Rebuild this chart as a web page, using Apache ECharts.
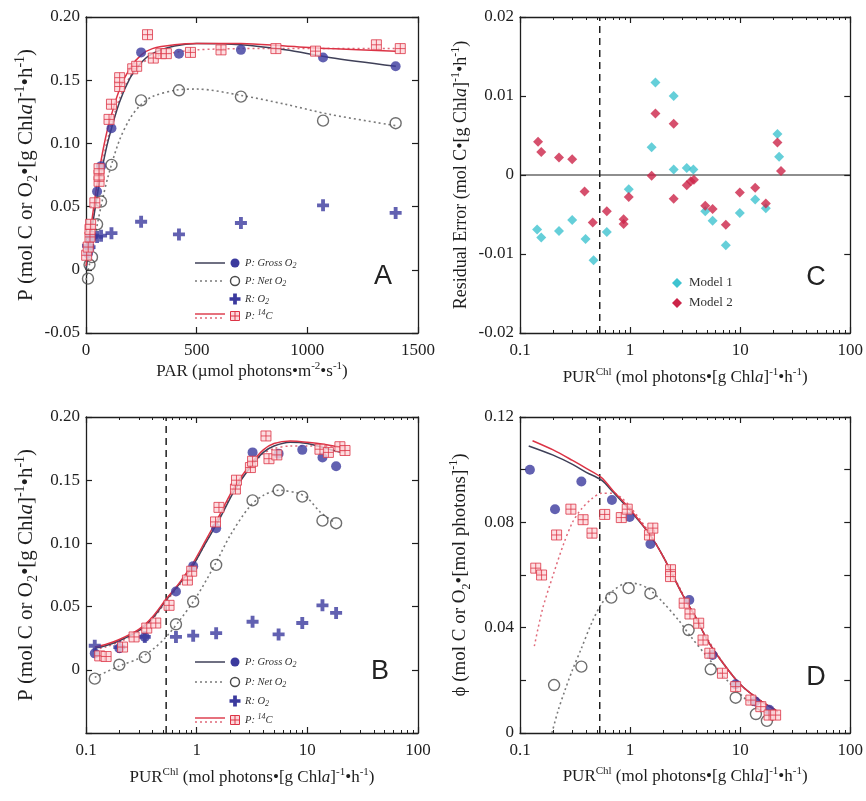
<!DOCTYPE html>
<html><head><meta charset="utf-8">
<script src="https://cdn.jsdelivr.net/npm/echarts@6/dist/echarts.min.js"></script>
<style>html,body{margin:0;padding:0;background:#fff}#c{width:866px;height:801px}</style>
</head><body><div id="c"></div>
<script>
// ---------------- DATA ----------------
// Panels A/B: O2 incubations (same samples; x = PAR in A, PUR in B)
const parObs   = [9, 16, 27, 50, 68, 115, 249, 420, 700, 1071, 1399];
const purObs   = [0.12, 0.2, 0.34, 0.65, 0.93, 1.5, 3.2, 5.5, 9.0, 13.7, 18.2];
const grossP   = [0.013, 0.017, 0.026, 0.062, 0.082, 0.112, 0.172, 0.171, 0.174, 0.168, 0.161];
const netP     = [-0.007, 0.004, 0.010, 0.036, 0.054, 0.083, 0.134, 0.142, 0.137, 0.118, 0.116];
const respR    = [0.019, 0.018, 0.026, 0.026, 0.027, 0.029, 0.038, 0.028, 0.037, 0.051, 0.045];
// Panel A: 14C incubations
const parC14   = [3, 10, 18, 18, 21, 40, 59, 59, 59, 104, 115, 152, 152, 211, 229, 278, 304, 338, 363, 472, 610, 858, 1037, 1312, 1420];
const pC14A    = [0.0115, 0.018, 0.026, 0.032, 0.036, 0.053, 0.070, 0.075, 0.080, 0.119, 0.131, 0.145, 0.152, 0.159, 0.161, 0.186, 0.1675, 0.171, 0.171, 0.172, 0.174, 0.175, 0.173, 0.178, 0.175];
// Panel B: 14C incubations
const purC14B  = [0.133, 0.152, 0.214, 0.272, 0.354, 0.427, 0.563, 0.825, 0.902, 1.48, 1.59, 2.24, 2.29, 3.06, 3.2, 4.23, 4.5, 5.3, 13, 15.5, 19.7, 21.9];
const pC14B    = [0.011, 0.0105, 0.018, 0.026, 0.033, 0.037, 0.051, 0.071, 0.078, 0.117, 0.1285, 0.143, 0.150, 0.160, 0.165, 0.185, 0.167, 0.170, 0.1745, 0.172, 0.1765, 0.1735];
// Panel A fitted curves
const aFitPAR    = [0, 25, 50, 75, 100, 150, 200, 250, 300, 400, 500, 700, 900, 1100, 1400];
const aGrossFit  = [0.000, 0.030, 0.058, 0.082, 0.102, 0.132, 0.152, 0.164, 0.171, 0.177, 0.179, 0.178, 0.174, 0.168, 0.161];
const aC14Fit    = [0.003, 0.037, 0.068, 0.093, 0.113, 0.142, 0.160, 0.170, 0.175, 0.178, 0.179, 0.179, 0.177, 0.175, 0.173];
const aC14Dot    = [0.000, 0.031, 0.060, 0.085, 0.105, 0.135, 0.153, 0.163, 0.168, 0.172, 0.174, 0.175, 0.175, 0.175, 0.175];
const aNetFit    = [-0.008, 0.012, 0.035, 0.056, 0.074, 0.102, 0.120, 0.131, 0.137, 0.142, 0.143, 0.138, 0.131, 0.123, 0.114];
// Panel B fitted curves
const bFitPUR    = [0.12, 0.15, 0.2, 0.3, 0.4, 0.53, 0.7, 0.92, 1.2, 1.6, 2.2, 3.1, 4, 5, 7, 10, 15, 20];
const bGrossFit  = [0.017, 0.019, 0.023, 0.031, 0.041, 0.055, 0.068, 0.082, 0.100, 0.119, 0.142, 0.161, 0.172, 0.177, 0.180, 0.179, 0.175, 0.172];
const bC14Fit    = [0.018, 0.020, 0.024, 0.032, 0.042, 0.056, 0.069, 0.084, 0.102, 0.122, 0.145, 0.163, 0.174, 0.179, 0.181, 0.180, 0.178, 0.176];
const bC14Dot    = [0.016, 0.018, 0.022, 0.030, 0.040, 0.054, 0.067, 0.082, 0.100, 0.120, 0.143, 0.161, 0.171, 0.175, 0.177, 0.177, 0.177, 0.177];
const bNetPUR    = [0.12, 0.2, 0.3, 0.4, 0.53, 0.7, 1, 1.5, 2, 3, 4, 5.5, 8, 10, 13, 18];
const bNetFit    = [-0.006, 0.003, 0.009, 0.016, 0.026, 0.039, 0.058, 0.085, 0.106, 0.129, 0.138, 0.142, 0.140, 0.136, 0.125, 0.116];
// Panel C: residuals
const m1PUR = [0.143, 0.156, 0.226, 0.298, 0.394, 0.466, 0.615, 0.973, 1.57, 1.70, 2.49, 2.49, 3.27, 3.76, 4.82, 5.62, 7.41, 9.93, 13.7, 17.1, 21.8, 22.6];
const m1Res = [-0.0069, -0.0079, -0.0071, -0.0057, -0.0081, -0.0108, -0.0072, -0.0018, 0.0035, 0.0117, 0.0100, 0.0007, 0.0009, 0.0007, -0.0046, -0.0058, -0.0089, -0.0048, -0.0031, -0.0042, 0.0052, 0.0023];
const m2PUR = [0.146, 0.156, 0.226, 0.298, 0.386, 0.458, 0.615, 0.874, 0.874, 0.973, 1.57, 1.70, 2.49, 2.49, 3.27, 3.56, 3.8, 4.82, 5.62, 7.41, 9.93, 13.7, 17.1, 21.8, 23.5];
const m2Res = [0.0042, 0.0029, 0.0022, 0.0020, -0.0021, -0.0060, -0.0046, -0.0056, -0.0062, -0.0028, -0.0001, 0.0078, 0.0065, -0.0030, -0.0013, -0.0008, -0.0006, -0.0039, -0.0043, -0.0063, -0.0022, -0.0016, -0.0036, 0.0041, 0.0005];
// Panel D: quantum yield
const purGrossD = [0.123, 0.208, 0.361, 0.684, 0.99, 1.53, 3.45, 5.6, 9.1, 13.7, 18.4];
const phiGross  = [0.100, 0.085, 0.0955, 0.0885, 0.082, 0.0718, 0.0505, 0.0296, 0.0185, 0.012, 0.0088];
const purNetD   = [0.204, 0.361, 0.675, 0.97, 1.53, 3.4, 5.4, 9.1, 13.9, 17.5];
const phiNet    = [0.0182, 0.0252, 0.0514, 0.055, 0.053, 0.0391, 0.0242, 0.0134, 0.0072, 0.0046];
const purC14D   = [0.139, 0.157, 0.215, 0.29, 0.374, 0.451, 0.588, 0.832, 0.942, 1.5, 1.61, 2.33, 2.33, 3.1, 3.5, 4.2, 4.6, 5.3, 6.9, 9.1, 12.5, 15.4, 18.3, 21];
const phiC14D   = [0.0626, 0.060, 0.0752, 0.085, 0.081, 0.0759, 0.083, 0.0818, 0.085, 0.0752, 0.0778, 0.062, 0.0594, 0.0493, 0.0452, 0.0417, 0.0353, 0.0303, 0.0227, 0.0176, 0.0125, 0.010, 0.0068, 0.0068];
const dGrossPUR = [0.12, 0.2, 0.3, 0.4, 0.55, 0.7, 1, 1.5, 2, 3, 4, 5, 7, 10, 15, 21];
const dGrossFit = [0.109, 0.1055, 0.102, 0.099, 0.096, 0.0915, 0.0845, 0.0755, 0.067, 0.0525, 0.0435, 0.0355, 0.0265, 0.0185, 0.0125, 0.0088];
const dC14PUR   = [0.13, 0.2, 0.3, 0.4, 0.55, 0.7, 1, 1.5, 2, 3, 4, 5, 7, 10, 15, 22];
const dC14Fit   = [0.111, 0.1075, 0.1035, 0.1005, 0.097, 0.092, 0.085, 0.0755, 0.067, 0.0525, 0.0435, 0.0355, 0.0265, 0.0185, 0.0125, 0.0082];
const dC14DotPUR = [0.135, 0.16, 0.2, 0.25, 0.3, 0.36, 0.45, 0.55, 0.7, 0.85, 1, 1.5, 2, 3, 5, 10, 22];
const dC14Dot    = [0.033, 0.047, 0.060, 0.072, 0.080, 0.085, 0.089, 0.091, 0.091, 0.089, 0.086, 0.076, 0.067, 0.053, 0.036, 0.0185, 0.008];
const dNetPUR   = [0.195, 0.22, 0.255, 0.3, 0.36, 0.45, 0.55, 0.7, 0.95, 1.2, 1.5, 2, 2.8, 3.5, 5, 8, 13, 18];
const dNetFit   = [0, 0.008, 0.016, 0.024, 0.032, 0.042, 0.049, 0.054, 0.057, 0.0565, 0.0545, 0.0495, 0.0425, 0.037, 0.029, 0.019, 0.0105, 0.0072];
// Ek threshold (dashed line)
const purThreshold = 0.53;
// Tick/axis ranges
const parRange = [0, 1500, 500];
const pRange   = [-0.05, 0.20, 0.05];
const resRange = [-0.02, 0.02, 0.01];
const phiRange = [0, 0.12, 0.04];
const purRange = [0.1, 100];

// ---------------- STYLE ----------------
const SERIF = '"Liberation Serif","Times New Roman",serif';
const SANS = '"Liberation Sans",Arial,sans-serif';
const INK = '#1e1e1e';
const BLUE = '#3b3a9e';
const GROSS_LINE = '#3f4058';
const NET_LINE = '#7a7a7a';
const RED = '#dc3446';
const RED_DOT = '#e06a7a';
const CYAN = '#3ec3d0';
const CRIMSON = '#cc2448';
const SQUARE = 'path://M0,0H100V100H0Z M50,0V100 M0,50H100';
const PLUS = 'path://M34,0H66V34H100V66H66V100H34V66H0V34H34Z';

function nameStyle(fs) {
  const sfs = Math.round(fs * 0.65);
  return {
    fontFamily: SERIF, fontSize: fs, color: INK, lineHeight: Math.round(fs * 1.3),
    rich: {
      sup: {fontFamily: SERIF, fontSize: sfs, lineHeight: sfs, verticalAlign: 'top', color: INK},
      sub: {fontFamily: SERIF, fontSize: sfs, lineHeight: sfs, verticalAlign: 'bottom', color: INK},
      it:  {fontFamily: SERIF, fontSize: fs, fontStyle: 'italic', color: INK}
    }
  };
}
const LABEL = {fontFamily: SERIF, fontSize: 17, color: INK};

function base(g) {
  return {
    gridIndex: g,
    axisLine: {show: true, onZero: false, lineStyle: {color: INK, width: 1.3}},
    axisTick: {show: true, inside: true, length: 6, lineStyle: {color: INK, width: 1.2}},
    splitLine: {show: false}
  };
}
function fmtLog(v) { return String(+Number(v).toPrecision(3)); }
function fmtY(hideBelow) {
  return function (v) {
    if (hideBelow !== undefined && v < hideBelow) return '';
    if (Math.abs(v) < 1e-9) return '0';
    return v.toFixed(2);
  };
}
function xPair(g, kind, name, gap) {
  const spec = kind === 'log'
    ? {type: 'log', logBase: 10, min: purRange[0], max: purRange[1],
       minorTick: {show: true, splitNumber: 9, length: 3, lineStyle: {color: INK, width: 1}}}
    : {type: 'value', min: parRange[0], max: parRange[1], interval: parRange[2]};
  const bottom = Object.assign(base(g), spec, {
    position: 'bottom', name: name, nameLocation: 'middle', nameGap: gap, nameTextStyle: nameStyle(17),
    axisLabel: Object.assign({margin: 9, formatter: kind === 'log' ? fmtLog : (v => String(v))}, LABEL)
  });
  const top = Object.assign(base(g), spec, {position: 'top', axisLabel: {show: false}});
  return [bottom, top];
}
function yPair(g, range, name, gap, fs, hideBelow) {
  const spec = {type: 'value', min: range[0], max: range[1], interval: range[2]};
  const left = Object.assign(base(g), spec, {
    position: 'left', name: name, nameLocation: 'middle', nameGap: gap, nameTextStyle: nameStyle(fs),
    axisLabel: Object.assign({margin: 6, formatter: fmtY(hideBelow)}, LABEL)
  });
  const right = Object.assign(base(g), spec, {position: 'right', axisLabel: {show: false}});
  return [left, right];
}

function zip(xs, ys) { return xs.map((x, i) => [x, ys[i]]); }
function sc(g, xs, ys, symbol, size, itemStyle, z) {
  return {type: 'scatter', xAxisIndex: 2 * g, yAxisIndex: 2 * g, data: zip(xs, ys),
    symbol, symbolSize: size, itemStyle, z: z || 3, silent: true};
}
function ln(g, xs, ys, color, width, type, z, smooth) {
  return {type: 'line', xAxisIndex: 2 * g, yAxisIndex: 2 * g, data: zip(xs, ys),
    showSymbol: false, symbol: 'none', smooth: smooth === undefined ? 0.3 : smooth,
    lineStyle: {color, width, type}, z: z || 2, silent: true};
}
const grossStyle = {color: BLUE};
const netStyle = {color: 'rgba(255,255,255,0)', borderColor: '#4a4a4a', borderWidth: 1.4};
const c14Style = {color: '#fcd6da', borderColor: RED, borderWidth: 1};

// grid order: 0=A, 1=C, 2=B, 3=D
const PUR_NAME = 'PUR{sup|Chl} (mol photons•[g Chl{it|a}]{sup|-1}•h{sup|-1})';
const xAxes = [].concat(
  xPair(0, 'lin', 'PAR (µmol photons•m{sup|-2}•s{sup|-1})', 28),
  xPair(1, 'log', PUR_NAME, 34),
  xPair(2, 'log', PUR_NAME, 34),
  xPair(3, 'log', PUR_NAME, 33)
);
const P_NAME = 'P (mol C or O{sub|2}•[g Chl{it|a}]{sup|-1}•h{sup|-1})';
const yAxes = [].concat(
  yPair(0, pRange, P_NAME, 46, 21),
  yPair(1, resRange, 'Residual Error (mol C•[g Chl{it|a}]{sup|-1}•h{sup|-1})', 47, 18),
  yPair(2, pRange, P_NAME, 46, 21, -0.04),
  yPair(3, phiRange, 'ϕ (mol C or O{sub|2}•[mol photons]{sup|-1})', 47, 19)
);
// D: minor ticks at 0.02
yAxes[6].minorTick = {show: true, splitNumber: 2, length: 6, lineStyle: {color: INK, width: 1.2}};
yAxes[7].minorTick = {show: true, splitNumber: 2, length: 6, lineStyle: {color: INK, width: 1.2}};

const series = [
  // ---- A ----
  ln(0, aFitPAR, aNetFit, NET_LINE, 1.6, [2, 3]),
  ln(0, aFitPAR, aC14Dot, RED_DOT, 1.5, [2, 3]),
  ln(0, aFitPAR, aGrossFit, GROSS_LINE, 1.5, 'solid'),
  ln(0, aFitPAR, aC14Fit, RED, 1.5, 'solid'),
  sc(0, parObs, respR, PLUS, 12, grossStyle),
  sc(0, parObs, netP, 'circle', 11, netStyle),
  sc(0, parObs, grossP, 'circle', 10, grossStyle),
  sc(0, parC14, pC14A, SQUARE, 10, c14Style, 4),
  // ---- C ----
  ln(1, [purRange[0], purRange[1]], [0, 0], INK, 1.2, 'solid', 2, false),
  ln(1, [purThreshold, purThreshold], [resRange[0], resRange[1]], INK, 1.5, [7, 5], 2, false),
  sc(1, m1PUR, m1Res, 'diamond', 10, {color: CYAN}),
  sc(1, m2PUR, m2Res, 'diamond', 10, {color: CRIMSON}, 4),
  // ---- B ----
  ln(2, [purThreshold, purThreshold], [pRange[0], pRange[1]], INK, 1.5, [7, 5], 2, false),
  ln(2, bNetPUR, bNetFit, NET_LINE, 1.6, [2, 3]),
  ln(2, bFitPUR, bC14Dot, RED_DOT, 1.5, [2, 3]),
  ln(2, bFitPUR, bGrossFit, GROSS_LINE, 1.5, 'solid'),
  ln(2, bFitPUR, bC14Fit, RED, 1.5, 'solid'),
  sc(2, purObs, respR, PLUS, 12, grossStyle),
  sc(2, purObs, netP, 'circle', 11, netStyle),
  sc(2, purObs, grossP, 'circle', 10, grossStyle),
  sc(2, purC14B, pC14B, SQUARE, 10, c14Style, 4),
  // ---- D ----
  ln(3, [purThreshold, purThreshold], [phiRange[0], phiRange[1]], INK, 1.5, [7, 5], 2, false),
  ln(3, dNetPUR, dNetFit, NET_LINE, 1.6, [2, 3]),
  ln(3, dC14DotPUR, dC14Dot, RED_DOT, 1.5, [2, 3]),
  ln(3, dGrossPUR, dGrossFit, GROSS_LINE, 1.5, 'solid'),
  ln(3, dC14PUR, dC14Fit, RED, 1.5, 'solid'),
  sc(3, purNetD, phiNet, 'circle', 11, netStyle),
  sc(3, purGrossD, phiGross, 'circle', 10, grossStyle),
  sc(3, purC14D, phiC14D, SQUARE, 10, c14Style, 4)
];

// ---------------- LEGENDS / LABELS (graphic) ----------------
const LEG_RICH = {
  i: {fontFamily: SERIF, fontSize: 10.5, fontStyle: 'italic', fill: '#333', lineHeight: 14},
  s: {fontFamily: SERIF, fontSize: 8, fontStyle: 'italic', fill: '#333', lineHeight: 8, verticalAlign: 'bottom'},
  p: {fontFamily: SERIF, fontSize: 8, fontStyle: 'italic', fill: '#333', lineHeight: 8, verticalAlign: 'top'}
};
function legText(x, y, t) {
  return {type: 'text', x: x, y: y, style: {text: t, rich: LEG_RICH, verticalAlign: 'middle', align: 'left',
    fontFamily: SERIF, fontSize: 10.5, fontStyle: 'italic', fill: '#333'}};
}
function plusPts(cx, cy, r) {
  const a = r * 0.34;
  return [[cx - a, cy - r], [cx + a, cy - r], [cx + a, cy - a], [cx + r, cy - a], [cx + r, cy + a], [cx + a, cy + a],
          [cx + a, cy + r], [cx - a, cy + r], [cx - a, cy + a], [cx - r, cy + a], [cx - r, cy - a], [cx - a, cy - a]];
}
function legend(x0, rows) {
  const lx1 = x0, lx2 = x0 + 30, mx = x0 + 40, tx = x0 + 50;
  return [
    {type: 'line', shape: {x1: lx1, y1: rows[0], x2: lx2, y2: rows[0]}, style: {stroke: GROSS_LINE, lineWidth: 1.5}},
    {type: 'circle', shape: {cx: mx, cy: rows[0], r: 4.5}, style: {fill: BLUE}},
    legText(tx, rows[0], '{i|P: Gross O}{s|2}'),
    {type: 'line', shape: {x1: lx1, y1: rows[1], x2: lx2, y2: rows[1]}, style: {stroke: NET_LINE, lineWidth: 1.6, lineDash: [2, 3]}},
    {type: 'circle', shape: {cx: mx, cy: rows[1], r: 4.5}, style: {fill: '#fff', stroke: '#4a4a4a', lineWidth: 1.4}},
    legText(tx, rows[1], '{i|P: Net O}{s|2}'),
    {type: 'polygon', shape: {points: plusPts(mx, rows[2], 5.5)}, style: {fill: BLUE}},
    legText(tx, rows[2], '{i|R: O}{s|2}'),
    {type: 'line', shape: {x1: lx1, y1: rows[3] - 2, x2: lx2, y2: rows[3] - 2}, style: {stroke: RED, lineWidth: 1.4}},
    {type: 'line', shape: {x1: lx1, y1: rows[3] + 2, x2: lx2, y2: rows[3] + 2}, style: {stroke: RED_DOT, lineWidth: 1.4, lineDash: [2, 3]}},
    {type: 'rect', shape: {x: mx - 4.5, y: rows[3] - 4.5, width: 9, height: 9}, style: {fill: '#fcd6da', stroke: RED, lineWidth: 1}},
    {type: 'line', shape: {x1: mx, y1: rows[3] - 4.5, x2: mx, y2: rows[3] + 4.5}, style: {stroke: RED, lineWidth: 1}},
    {type: 'line', shape: {x1: mx - 4.5, y1: rows[3], x2: mx + 4.5, y2: rows[3]}, style: {stroke: RED, lineWidth: 1}},
    legText(tx, rows[3], '{i|P: }{p|14}{i|C}')
  ];
}
function panelLetter(x, y, t) {
  return {type: 'text', x: x, y: y, style: {text: t, fontFamily: SANS, fontSize: 27, fill: '#222', align: 'center', verticalAlign: 'middle'}};
}
const graphics = [].concat(
  legend(195, [263, 281, 299, 316]),
  legend(195, [662, 682, 701, 720]),
  [
    {type: 'polygon', shape: {points: [[677, 278], [682, 283], [677, 288], [672, 283]]}, style: {fill: CYAN}},
    {type: 'text', x: 689, y: 283, style: {text: 'Model 1', fontFamily: SERIF, fontSize: 13, fill: '#333', verticalAlign: 'middle'}},
    {type: 'polygon', shape: {points: [[677, 298], [682, 303], [677, 308], [672, 303]]}, style: {fill: CRIMSON}},
    {type: 'text', x: 689, y: 303, style: {text: 'Model 2', fontFamily: SERIF, fontSize: 13, fill: '#333', verticalAlign: 'middle'}},
    panelLetter(383, 277, 'A'),
    panelLetter(380, 672, 'B'),
    panelLetter(816, 278, 'C'),
    panelLetter(816, 678, 'D')
  ]
);

const chart = echarts.init(document.getElementById('c'), null, {renderer: 'canvas'});
chart.setOption({
  animation: false,
  backgroundColor: '#fff',
  grid: [
    {left: 86, top: 17, width: 332, height: 316},
    {left: 520, top: 17, width: 331, height: 316},
    {left: 86, top: 417, width: 332, height: 316},
    {left: 520, top: 417, width: 331, height: 316}
  ],
  xAxis: xAxes,
  yAxis: yAxes,
  series: series,
  graphic: graphics
});
</script>
</body></html>
